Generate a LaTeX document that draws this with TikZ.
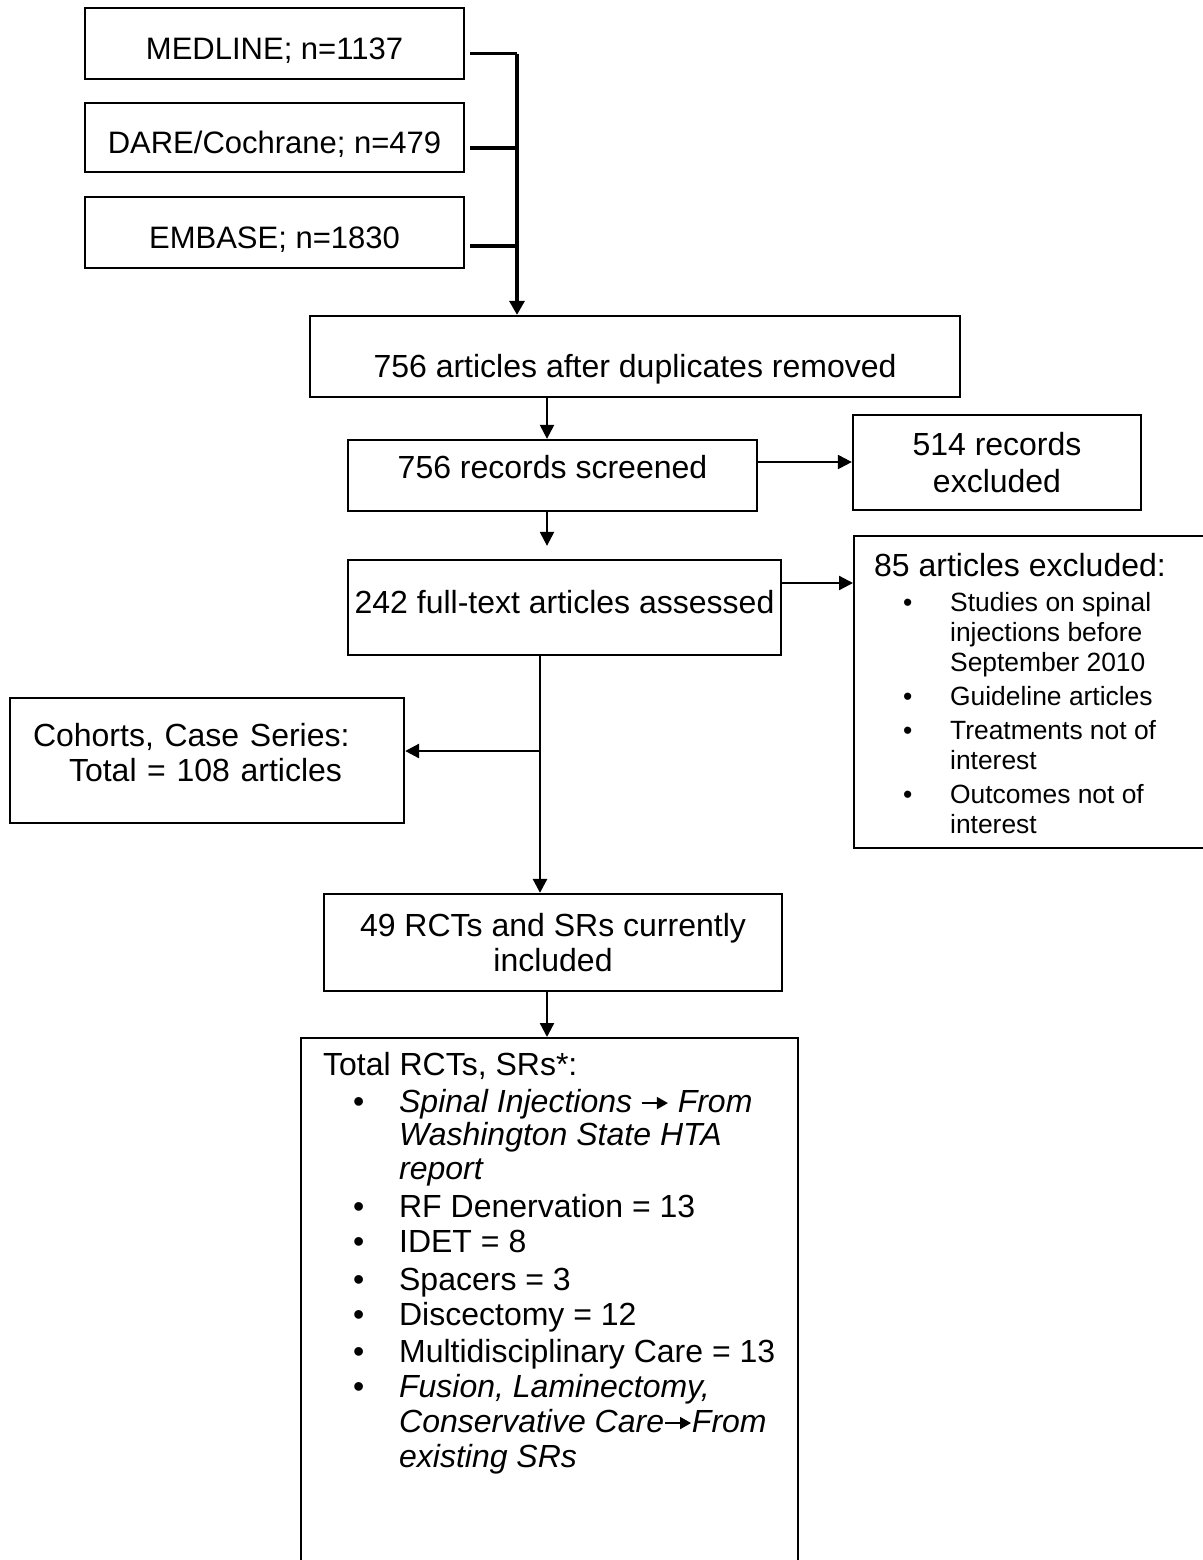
\documentclass[tikz,border=0pt]{standalone}
\usepackage{fontspec}
\setmainfont{Liberation Sans}
\usetikzlibrary{arrows.meta,calc}

% small helpers for the bullet lists
\newcommand{\itarrow}{\tikz[baseline=-0.55ex]\draw[line width=0.9pt,-{Triangle[length=5.5pt,width=6pt]}] (0,0) -- (13pt,0);}
\newcommand{\exbul}{\hspace*{14.5pt}\makebox[23.5pt][l]{\textbullet}}
\newcommand{\exskip}{\hspace*{38pt}}
\newcommand{\totbul}{\hspace*{15pt}\makebox[23pt][l]{\textbullet}}
\newcommand{\totskip}{\hspace*{38pt}}

\begin{document}
\begin{tikzpicture}[x=0.5pt,y=-0.5pt,
    box/.style={draw,line width=1.15pt,inner sep=0pt,font=\fontsize{16}{17.5}\selectfont},
    src/.style={box,minimum width=189.5pt,text height=16pt,text depth=0pt,font=\fontsize{15.5}{17.5}\selectfont},
    feed/.style={line width=1.65pt},
    arr/.style={line width=1.15pt,-{Triangle[length=7pt,width=7pt]}}]
\useasboundingbox (0,0) rectangle (1203,1560);

% sources
\node[src,minimum height=35.5pt] (med) at (274.5,43.5) {MEDLINE; n=1137};
\node[src,minimum height=34.5pt] (dare) at (274.5,137.5) {DARE/Cochrane; n=479};
\node[src,minimum height=35.5pt] (emb) at (274.5,232.5) {EMBASE; n=1830};

% screening
\node[box,minimum width=325pt,minimum height=40.5pt,text height=23.5pt,text depth=3pt] (dup) at (635,356.5) {756 articles after duplicates removed};
\node[box,minimum width=204.5pt,minimum height=35.5pt,text height=11pt,text depth=8.5pt] (scr) at (552.5,475.5) {756 records screened};
\node[box,align=center,minimum width=144pt,minimum height=47.5pt] (exc1) at (997,462.5) {514 records\\[1pt]excluded};
\node[box,minimum width=216.5pt,minimum height=47.5pt,text height=11pt,text depth=5.4pt] (full) at (564.5,607.5) {242 full-text articles assessed};
\node[box,anchor=north west,inner xsep=10pt,inner ysep=8.5pt] (exc2) at (853,535) {\parbox[t][139pt][t]{161pt}{\raggedright
  \fontsize{16}{17.5}\selectfont 85 articles excluded:\par
  \fontsize{13.2}{15}\selectfont\vspace{2.5pt}
  \exbul Studies on spinal\\
  \exskip injections before\\
  \exskip September 2010\\[2pt]
  \exbul Guideline articles\\[2pt]
  \exbul Treatments not of\\
  \exskip interest\\[2pt]
  \exbul Outcomes not of\\
  \exskip interest}};

% included
\node[box,text width=174pt,align=left,inner xsep=11.5pt,minimum height=62.5pt] (coh) at (207,760.5) {Cohorts, Case Series:\\\hspace*{18pt}Total = 108 articles\rule[-8pt]{0pt}{8pt}};
\node[box,align=center,minimum width=229pt,minimum height=48.5pt] (inc) at (553,942.5) {49 RCTs and SRs currently\\included};
\node[box,anchor=north west,inner xsep=11pt,inner ysep=7pt] (tot) at (300,1037) {\parbox[t][255pt][t]{226.5pt}{\raggedright
  \fontsize{16}{17.5}\selectfont
  Total RCTs, SRs*:\\[1pt]
  \totbul\textit{Spinal Injections \itarrow{} From}\\[-1pt]
  \totskip\textit{Washington State HTA}\\[-0.5pt]
  \totskip\textit{report}\\[1.5pt]
  \totbul RF Denervation = 13\\
  \totbul IDET = 8\\[1.5pt]
  \totbul Spacers = 3\\
  \totbul Discectomy = 12\\[1pt]
  \mbox{\totbul Multidisciplinary Care = 13}\\
  \totbul\textit{Fusion, Laminectomy,}\\
  \totskip\textit{Conservative Care\itarrow From}\\
  \totskip\textit{existing SRs}}};

% connectors
\coordinate (bus) at (517,53);
\draw[feed] ([xshift=2.5pt,yshift=-5pt]med.east) coordinate (m1) -- (m1 -| bus);
\draw[feed] ([xshift=2.5pt,yshift=-5.25pt]dare.east) coordinate (d1) -- (d1 -| bus);
\draw[feed] ([xshift=2.5pt,yshift=-6.75pt]emb.east) coordinate (e1) -- (e1 -| bus);
\draw[feed,-{Triangle[length=7pt,width=7.5pt]}] (m1 -| bus) -- (bus |- dup.north);

\coordinate (col) at (547,0);
\draw[arr] (col |- dup.south) -- (col |- scr.north);
\draw[arr] (col |- scr.south) -- ($(col |- full.north)+(0,-13)$);
\draw[arr] ([yshift=6.75pt]scr.east) coordinate (s1) -- (s1 -| exc1.west);
\draw[arr] ([yshift=12.25pt]full.east) coordinate (f1) -- (f1 -| exc2.west);

\coordinate (fork) at (540,751);
\draw[arr,line width=1.4pt] (fork |- full.south) -- (fork |- inc.north);
\draw[arr,line width=1.4pt] (fork) -- (fork -| coh.east);
\draw[arr] (col |- inc.south) -- (col |- tot.north);
\end{tikzpicture}
\end{document}
